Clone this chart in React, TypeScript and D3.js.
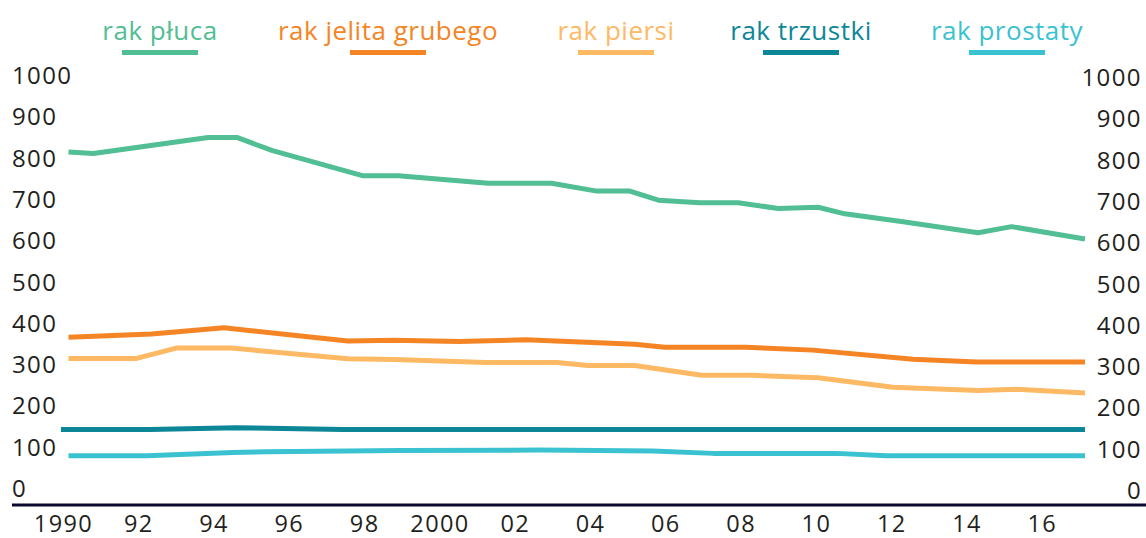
import React from 'react';
import * as d3 from 'd3';

// legend / series names
const seriesNames = ['rak płuca', 'rak jelita grubego', 'rak piersi', 'rak trzustki', 'rak prostaty'];
const seriesColors = ['#51BE93', '#F58424', '#FDB964', '#0C8797', '#3BC2D0'];

// values (vertices of each line, year as decimal)
const lungYears = [1990, 1990.66, 1993.71, 1994.47, 1995.42, 1997.83, 1998.76, 2001.15, 2002.83, 2004.03, 2004.91, 2005.67, 2006.77, 2007.79, 2008.85, 2009.91, 2010.62, 2012.17, 2014.16, 2015.05, 2017];
const lungValues = [855, 851, 890, 890, 858, 797, 797, 779, 779, 760, 760, 738, 732, 732, 718, 721, 705, 686, 659, 674, 644];

const colorectalYears = [1990, 1992.21, 1994.13, 1997.42, 1998.65, 2000.37, 2002.15, 2005.04, 2005.84, 2007.99, 2009.77, 2012.43, 2014.13, 2017];
const colorectalValues = [406, 414, 429, 397, 399, 396, 400, 389, 382, 382, 375, 353, 346, 346];

const breastYears = [1990, 1991.81, 1992.86, 1994.32, 1997.42, 1998.65, 2001.09, 2002.97, 2003.8, 2005.04, 2006.82, 2008.18, 2009.91, 2011.9, 2014.16, 2015.19, 2017];
const breastValues = [355, 355, 380, 380, 354, 352, 345, 345, 338, 338, 314, 314, 308, 285, 277, 280, 271];

const pancreasYears = [1989.8, 1992.16, 1994.45, 1997.29, 2017];
const pancreasValues = [183, 183, 187, 183, 183];

const prostateYears = [1990, 1992.08, 1994.37, 1995.26, 1998.8, 2002.52, 2005.52, 2007.12, 2010.4, 2011.73, 2017];
const prostateValues = [119, 119, 127, 129, 132, 133, 131, 125, 125, 119, 119];

const yTicks = [0, 100, 200, 300, 400, 500, 600, 700, 800, 900, 1000];
const xTicks = [1990, 1992, 1994, 1996, 1998, 2000, 2002, 2004, 2006, 2008, 2010, 2012, 2014, 2016];
const xTickLabels = ['1990', '92', '94', '96', '98', '2000', '02', '04', '06', '08', '10', '12', '14', '16'];

const W = 1146;
const H = 538;
const FONT = '"Open Sans", sans-serif';
const TEXT = '#231F20';

export default function App() {
  const x = d3.scaleLinear().domain([1990, 2017]).range([68.5, 1085]);
  const y = d3.scaleLinear().domain([0, 1000]).range([505, 92]);

  const series = [
    [lungYears, lungValues],
    [colorectalYears, colorectalValues],
    [breastYears, breastValues],
    [pancreasYears, pancreasValues],
    [prostateYears, prostateValues],
  ];

  const line = d3.line<[number, number]>()
    .x(d => x(d[0]))
    .y(d => y(d[1]));

  // legend item centres
  const legendX = [160, 388, 616, 801, 1007];

  return (
    <svg width={W} height={H} style={{position: 'absolute', left: 0, top: 0, background: '#fff'}}>
      {/* legend */}
      {seriesNames.map((name, i) => (
        <g key={name}>
          <text x={legendX[i]} y={39.5} textAnchor="middle" fill={seriesColors[i]}
            style={{fontFamily: FONT, fontSize: 26, letterSpacing: 0.5}}>{name}</text>
          <rect x={legendX[i] - 38} y={50} width={76} height={5} fill={seriesColors[i]} />
        </g>
      ))}

      {/* y labels, left and right */}
      {yTicks.map(t => (
        <g key={t}>
          <text x={12} y={y(t) - 8} fill={TEXT}
            style={{fontFamily: FONT, fontSize: 24, letterSpacing: 1.4}}>{t}</text>
          <text x={1142} y={y(t) - 6} textAnchor="end" fill={TEXT}
            style={{fontFamily: FONT, fontSize: 24, letterSpacing: 1.4}}>{t}</text>
        </g>
      ))}

      {/* lines */}
      {series.map(([yrs, vals], i) => (
        <path key={i}
          d={line(yrs.map((yr, j) => [yr, vals[j]] as [number, number])) || ''}
          fill="none" stroke={seriesColors[i]} strokeWidth={5} strokeLinejoin="round" />
      ))}

      {/* baseline */}
      <line x1={12} x2={W} y1={y(0)} y2={y(0)} stroke="#0B0A2E" strokeWidth={3} />

      {/* x labels */}
      {xTicks.map((t, i) => (
        <text key={t} x={x(t) - 5} y={532} textAnchor="middle" fill={TEXT}
          style={{fontFamily: FONT, fontSize: 23.5, letterSpacing: 1.4}}>{xTickLabels[i]}</text>
      ))}
    </svg>
  );
}
